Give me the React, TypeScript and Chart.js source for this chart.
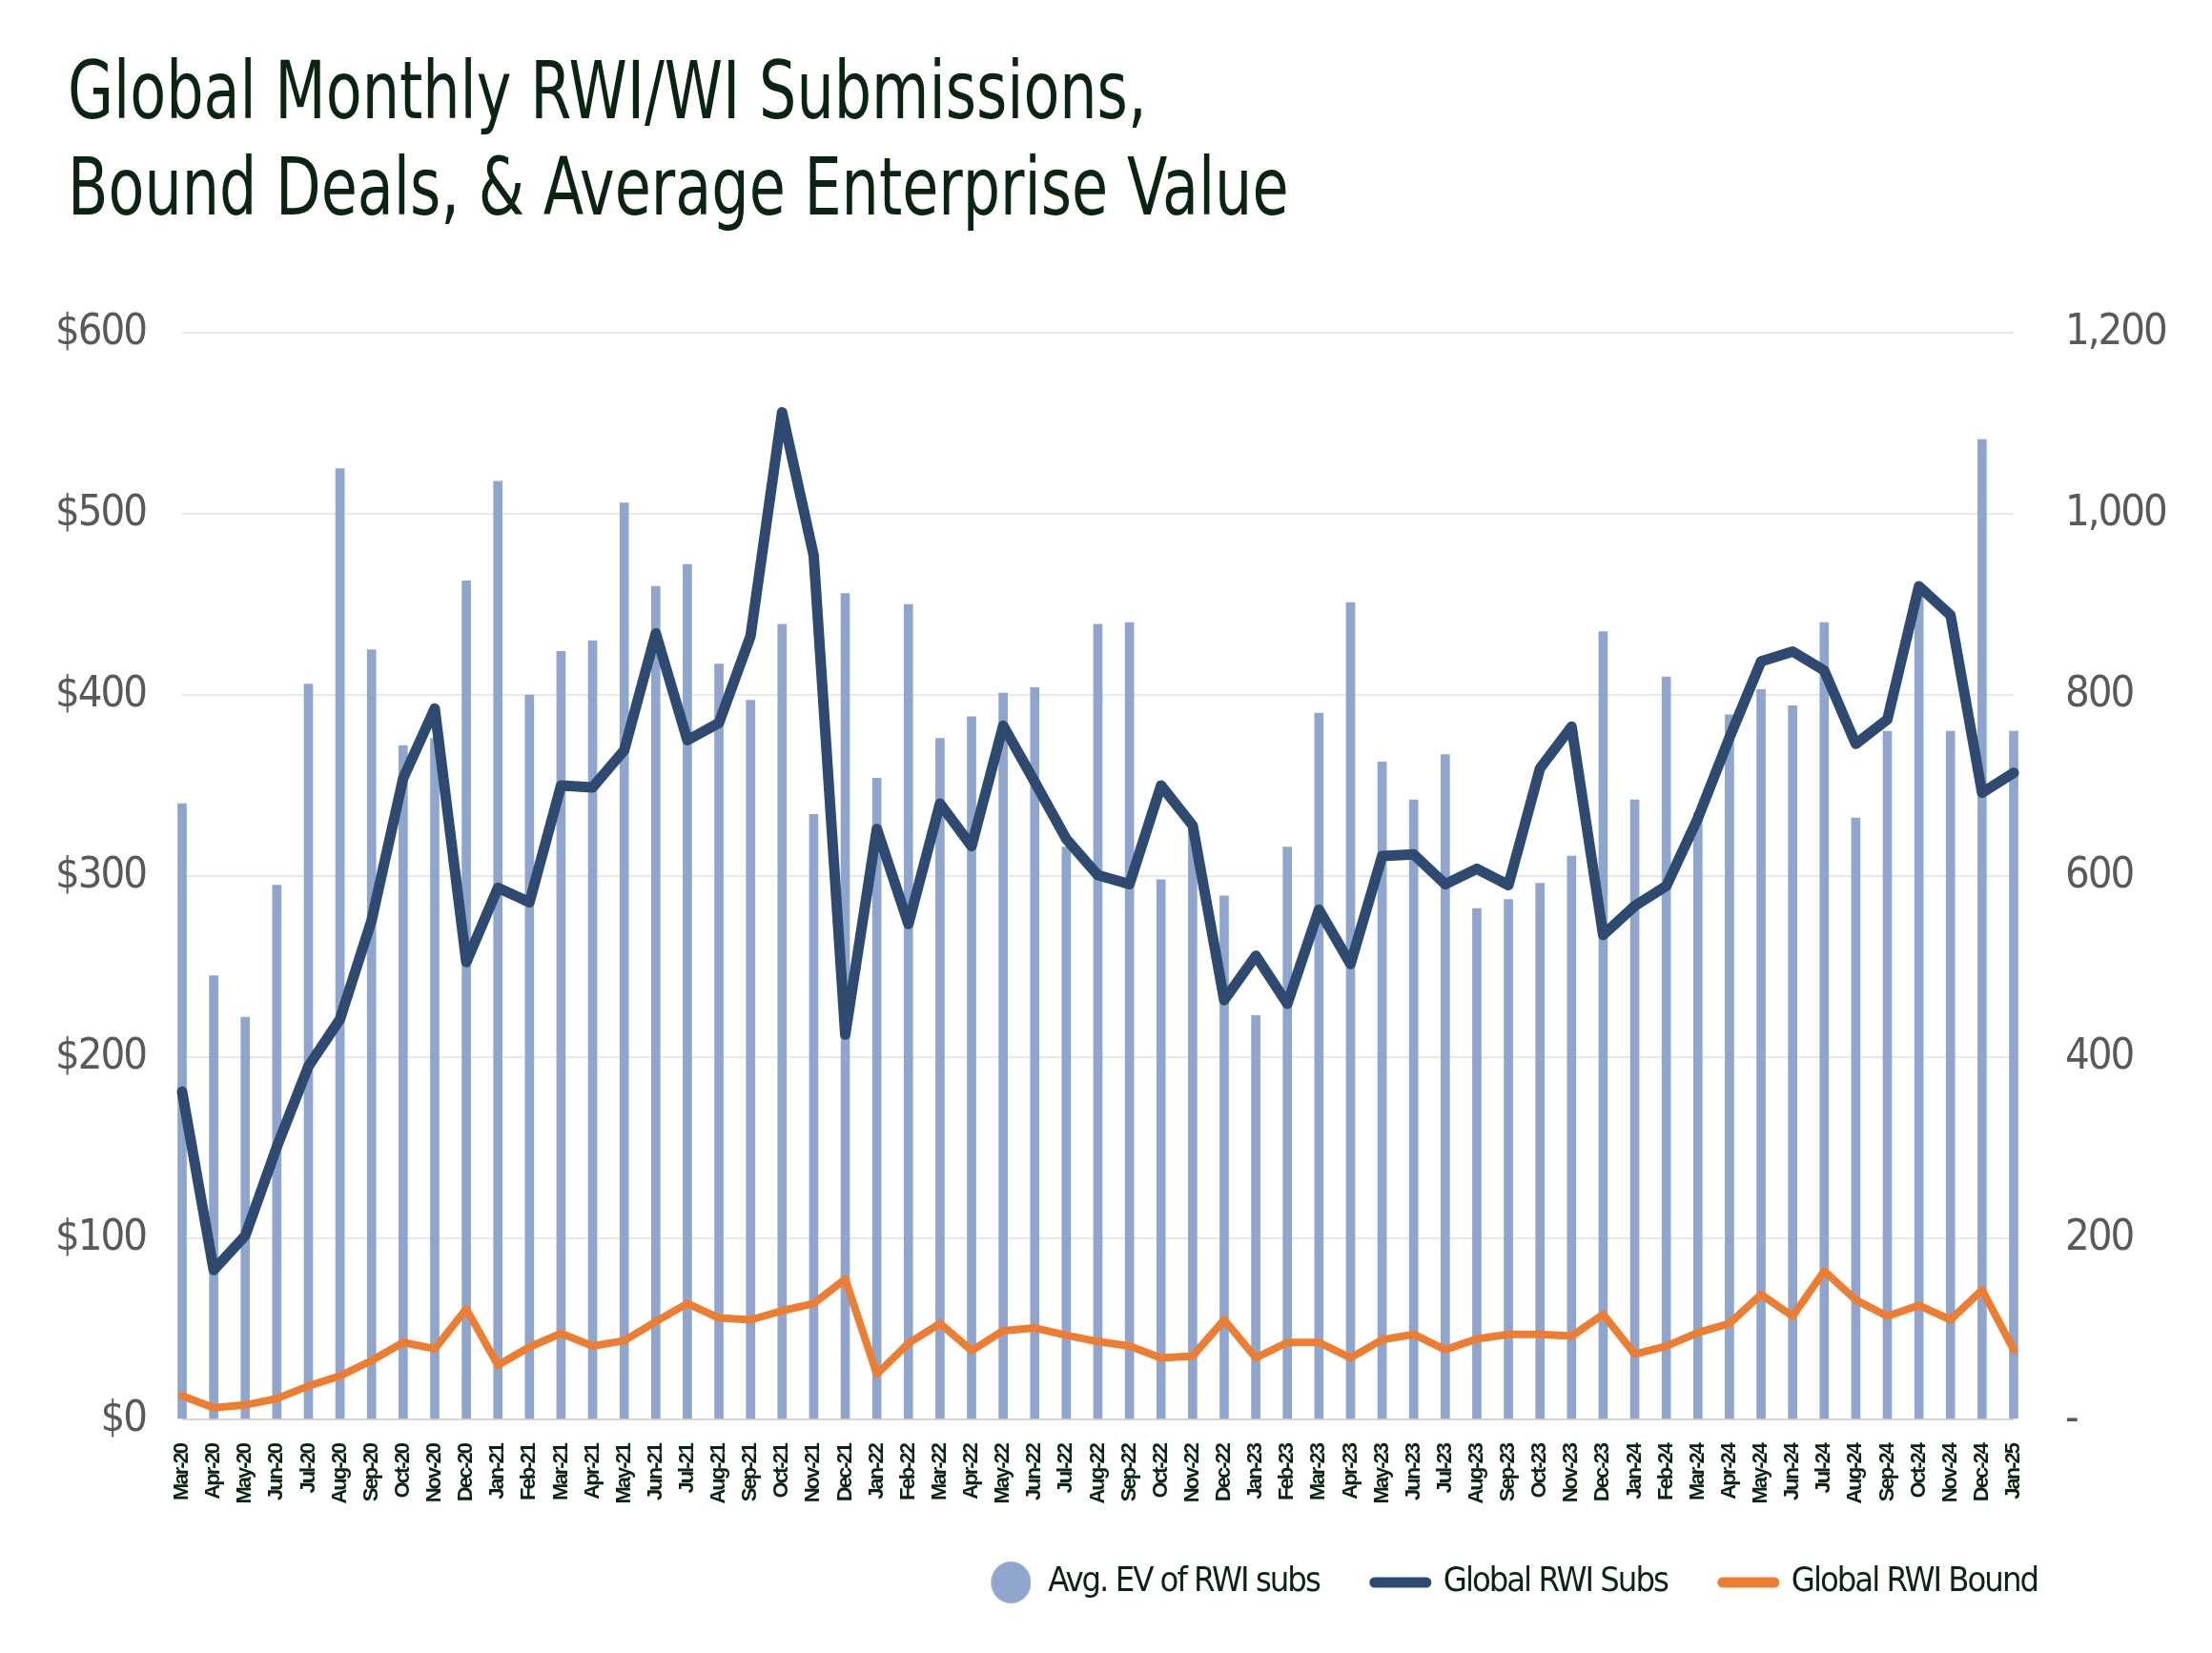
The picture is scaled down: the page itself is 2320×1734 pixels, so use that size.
import { useEffect, useRef } from "react";
import { Chart, registerables } from "chart.js";

Chart.register(...registerables);

const categories = [
  "Mar-20", "Apr-20", "May-20", "Jun-20", "Jul-20", "Aug-20", "Sep-20", "Oct-20", "Nov-20", "Dec-20",
  "Jan-21", "Feb-21", "Mar-21", "Apr-21", "May-21", "Jun-21", "Jul-21", "Aug-21", "Sep-21", "Oct-21", "Nov-21", "Dec-21",
  "Jan-22", "Feb-22", "Mar-22", "Apr-22", "May-22", "Jun-22", "Jul-22", "Aug-22", "Sep-22", "Oct-22", "Nov-22", "Dec-22",
  "Jan-23", "Feb-23", "Mar-23", "Apr-23", "May-23", "Jun-23", "Jul-23", "Aug-23", "Sep-23", "Oct-23", "Nov-23", "Dec-23",
  "Jan-24", "Feb-24", "Mar-24", "Apr-24", "May-24", "Jun-24", "Jul-24", "Aug-24", "Sep-24", "Oct-24", "Nov-24", "Dec-24",
  "Jan-25",
];

// Avg. EV of RWI subs ($, left axis)
const avgEV = [
  340, 245, 222, 295, 406, 525, 425, 372, 376, 463,
  518, 400, 424, 430, 506, 460, 472, 417, 397, 439, 334, 456,
  354, 450, 376, 388, 401, 404, 316, 439, 440, 298, 325, 289,
  223, 316, 390, 451, 363, 342, 367, 282, 287, 296, 311, 435,
  342, 410, 335, 389, 403, 394, 440, 332, 380, 455, 380, 541,
  380,
];

// Global RWI Subs (count, right axis)
const rwiSubs = [
  362, 165, 203, 301, 390, 442, 551, 708, 785, 505,
  587, 571, 700, 698, 739, 868, 750, 769, 865, 1112, 954, 425,
  652, 547, 680, 633, 766, 704, 641, 601, 591, 700, 656, 463,
  512, 459, 563, 503, 622, 624, 591, 608, 590, 719, 765, 535,
  567, 589, 664, 753, 837, 848, 827, 746, 773, 920, 888, 692,
  714,
];

// Global RWI Bound (count, right axis)
const rwiBound = [
  26, 13, 16, 23, 37, 48, 65, 85, 78, 122,
  60, 80, 95, 81, 87, 108, 128, 112, 110, 120, 128, 155,
  50, 84, 106, 76, 98, 101, 93, 86, 81, 68, 70, 110,
  68, 85, 85, 68, 88, 94, 77, 89, 94, 94, 92, 116,
  72, 81, 96, 106, 138, 114, 164, 132, 114, 126, 110, 143,
  77,
];

const leftTicks = ["$0", "$100", "$200", "$300", "$400", "$500", "$600"];
const rightTicks = ["-", "200", "400", "600", "800", "1,000", "1,200"];

const NARROW = '"DejaVu Sans Condensed", "Liberation Sans Narrow", "Liberation Sans", sans-serif';
const TEXT_GREEN = "#0a2412";
const BAR_BLUE = "#8fa5cd";
const NAVY = "#2f4a70";
const ORANGE = "#ed7d31";

// tighter letters for all canvas text (the original uses a narrow face)
const tightText = {
  id: "tightText",
  beforeLayout: (c: Chart) => {
    (c.ctx as any).letterSpacing = "-2px";
  },
  beforeDraw: (c: Chart) => {
    (c.ctx as any).letterSpacing = "-2px";
    // legend sits left of the right axis labels
    if (c.legend) c.legend.right = 2195;
  },
};

export default function App() {
  const chartRef = useRef<HTMLCanvasElement | null>(null);

  useEffect(() => {
    const canvas = chartRef.current;
    if (!canvas) return;
    const ctx = canvas.getContext("2d");
    if (!ctx) return;

    // legend dot, drawn at the right side of the box so the gap to the text is small
    const dot = document.createElement("canvas");
    dot.width = 54;
    dot.height = 44;
    const dctx = dot.getContext("2d");
    if (dctx) {
      dctx.fillStyle = BAR_BLUE;
      dctx.beginPath();
      dctx.ellipse(33, 22, 21, 22, 0, 0, Math.PI * 2);
      dctx.fill();
    }

    const chart = new Chart(ctx, {
      type: "bar",
      data: {
        labels: categories,
        datasets: [
          {
            type: "bar",
            label: "Avg. EV of RWI subs",
            data: avgEV,
            backgroundColor: BAR_BLUE,
            barThickness: 9,
            yAxisID: "y",
            order: 3,
            clip: false,
          },
          {
            type: "line",
            label: "Global RWI Subs",
            data: rwiSubs,
            borderColor: NAVY,
            backgroundColor: NAVY,
            borderWidth: 11,
            borderJoinStyle: "round",
            borderCapStyle: "round",
            pointRadius: 0,
            tension: 0,
            yAxisID: "y1",
            order: 2,
            clip: false,
          },
          {
            type: "line",
            label: "Global RWI Bound",
            data: rwiBound,
            borderColor: ORANGE,
            backgroundColor: ORANGE,
            borderWidth: 8,
            borderJoinStyle: "round",
            borderCapStyle: "round",
            pointRadius: 0,
            tension: 0,
            yAxisID: "y1",
            order: 1,
            clip: false,
          },
        ],
      },
      options: {
        responsive: false,
        animation: false,
        devicePixelRatio: 1,
        layout: { padding: { top: 349, left: 0, right: 48, bottom: 46 } },
        plugins: {
          tooltip: { enabled: false },
          title: { display: false },
          legend: {
            position: "bottom",
            align: "end",
            labels: {
              usePointStyle: true,
              pointStyleWidth: 54,
              padding: 58,
              color: TEXT_GREEN,
              font: { family: NARROW, size: 36 },
              sort: (a, b) => (a.datasetIndex ?? 0) - (b.datasetIndex ?? 0),
              generateLabels: (c) => {
                const items = Chart.defaults.plugins.legend.labels.generateLabels(c);
                return items.map((it) => {
                  if (it.datasetIndex === 0) {
                    return { ...it, pointStyle: dot, lineWidth: 0 };
                  }
                  return { ...it, pointStyle: "line", lineWidth: 11, lineCap: "round" };
                });
              },
            },
          },
        },
        scales: {
          x: {
            type: "category",
            offset: false,
            grid: { display: false },
            border: { display: false },
            ticks: {
              autoSkip: false,
              maxRotation: 90,
              minRotation: 90,
              padding: 18,
              color: TEXT_GREEN,
              font: { family: '"Liberation Sans", Arial, sans-serif', size: 22, weight: "bold" },
            },
            afterFit: (s) => {
              s.height = 95;
            },
          },
          y: {
            position: "left",
            min: 0,
            max: 600,
            border: { display: false },
            grid: {
              drawTicks: false,
              lineWidth: 2,
              color: (g) => (g.tick && g.tick.value === 0 ? "#d6d6d6" : "#e8e8e8"),
            },
            ticks: {
              stepSize: 100,
              padding: 38,
              color: "#595959",
              font: { family: NARROW, size: 45 },
              callback: (_v, i) => leftTicks[i],
            },
            afterFit: (s) => {
              s.width = 191;
            },
          },
          y1: {
            position: "right",
            min: 0,
            max: 1200,
            border: { display: false },
            grid: { display: false, drawTicks: false },
            ticks: {
              stepSize: 200,
              padding: 54,
              color: "#595959",
              font: { family: NARROW, size: 45 },
              callback: (_v, i) => rightTicks[i],
            },
            afterFit: (s) => {
              s.width = 160;
            },
          },
        },
      },
      plugins: [tightText],
    });

    return () => {
      chart.destroy();
    };
  }, []);

  return (
    <div style={{ position: "absolute", left: 0, top: 0, width: 2320, height: 1734, background: "#fff" }}>
      <div
        style={{
          position: "absolute",
          left: 71,
          top: 45,
          fontFamily: NARROW,
          fontSize: 84,
          lineHeight: "101px",
          color: TEXT_GREEN,
          whiteSpace: "nowrap",
          transform: "scaleX(0.82)",
          transformOrigin: "left top",
        }}
      >
        <div>Global Monthly RWI/WI Submissions,</div>
        <div>Bound Deals, &amp; Average Enterprise Value</div>
      </div>
      <canvas ref={chartRef} width={2320} height={1734} style={{ display: "block" }} />
    </div>
  );
}
